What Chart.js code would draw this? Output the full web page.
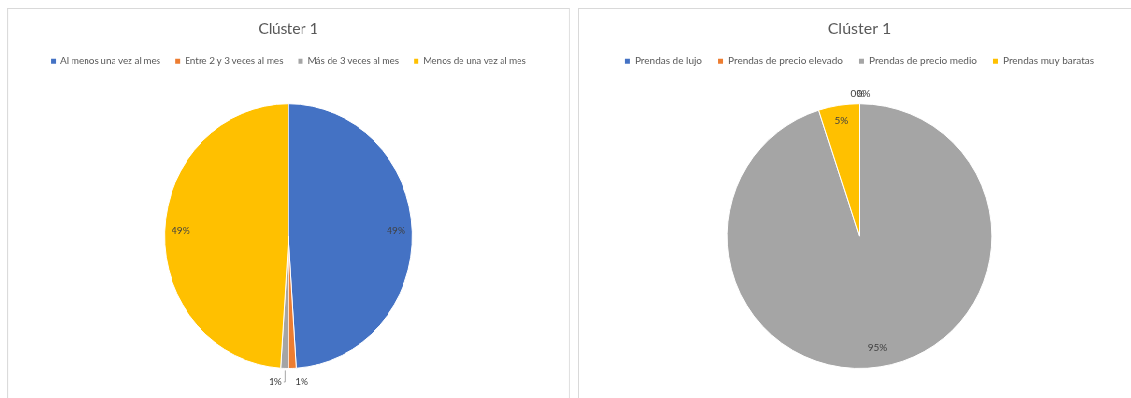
<!DOCTYPE html>
<html>
<head>
<meta charset="utf-8">
<title>Clúster 1</title>
<script src="https://cdn.jsdelivr.net/npm/chart.js@4.4.0/dist/chart.umd.min.js"></script>
<style>
	body { margin: 0; background: #fff; width: 1131px; height: 398px; overflow: hidden; position: relative; }
	.panel { position: absolute; top: 8px; border: 1px solid #d9d9d9; background: #fff; }
	#panelFreq { left: 7px; width: 600px; height: 400px; transform: scaleX(0.935); transform-origin: 0 0; }
	#panelPrice { left: 578px; width: 561px; height: 400px; }
</style>
</head>
<body>
	<div id="panelFreq" class="panel"><canvas id="chartFreq" width="600" height="390"></canvas></div>
	<div id="panelPrice" class="panel"><canvas id="chartPrice" width="561" height="390"></canvas></div>
<script>
	// datos del clúster 1
	const titleText = 'Clúster 1';
	const freqLabels = ['Al menos una vez al mes', 'Entre 2 y 3 veces al mes', 'Más de 3 veces al mes', 'Menos de una vez al mes'];
	const freqValues = [49, 1, 1, 49];
	const priceLabels = ['Prendas de lujo', 'Prendas de precio elevado', 'Prendas de precio medio', 'Prendas muy baratas'];
	const priceValues = [0, 0, 95, 5];
	const sliceColors = ['#4472C4', '#ED7D31', '#A5A5A5', '#FFC000'];

	//Etiquetas de porcentaje estilo Excel (dentro o fuera del sector)
	const pctLabels = {
		id: 'pctLabels',
		afterDatasetsDraw(chart) {
			const ctx = chart.ctx;
			const meta = chart.getDatasetMeta(0);
			const values = chart.data.datasets[0].data;
			const total = values.reduce((a, b) => a + b, 0);
			let zeroCount = 0;
			ctx.save();
			ctx.font = '10px Lato';
			ctx.fillStyle = '#404040';
			ctx.textAlign = 'center';
			ctx.textBaseline = 'middle';
			meta.data.forEach(function (arc, i) {
				const p = arc.getProps(['x', 'y', 'startAngle', 'endAngle', 'outerRadius'], true);
				const frac = values[i] / total;
				const text = Math.round(frac * 100) + '%';
				const mid = (p.startAngle + p.endAngle) / 2;
				const cos = Math.cos(mid), sin = Math.sin(mid);
				if (frac >= 0.04) {
					const r = p.outerRadius * 0.87;
					ctx.fillText(text, p.x + cos * r, p.y + sin * r - 2);
					return;
				}
				const ex = p.x + cos * p.outerRadius;
				const ey = p.y + sin * p.outerRadius;
				const w = ctx.measureText(text).width;
				if (frac === 0) {
					// sectores vacíos: se apilan casi encima, como en Excel
					ctx.fillText(text, ex + cos * 10 + zeroCount * 6 - 2, ey + sin * 10);
					zeroCount++;
					return;
				}
				const side = cos >= 0 ? 1 : -1;
				const lx = ex + side * (w / 2 + 3);
				const ly = ey + 13;
				ctx.fillText(text, lx, ly);
				if (side < 0) {
					ctx.strokeStyle = '#A6A6A6';
					ctx.lineWidth = 1;
					ctx.beginPath();
					ctx.moveTo(lx + w / 2 + 2, ly + 0.5);
					ctx.lineTo(ex + 0.5, ly + 0.5);
					ctx.lineTo(ex + 0.5, ey + 2);
					ctx.stroke();
				}
			});
			ctx.restore();
		}
	};

	//Espacio extra debajo de la leyenda
	const legendGap = {
		id: 'legendGap',
		beforeInit(chart) {
			const origFit = chart.legend.fit;
			chart.legend.fit = function () {
				origFit.bind(chart.legend)();
				this.height += 27;
			};
		}
	};

	function drawPie(canvas, labels, values) {
		new Chart(canvas, {
			type: 'pie',
			data: {
				labels: labels,
				datasets: [{
					data: values,
					backgroundColor: sliceColors,
					borderColor: '#ffffff',
					borderWidth: 1
				}]
			},
			options: {
				responsive: false,
				animation: false,
				layout: { padding: { bottom: 30 } },
				plugins: {
					tooltip: { enabled: false },
					title: {
						display: true,
						text: titleText,
						color: '#595959',
						font: { family: 'Lato', size: 16, weight: 'normal' },
						padding: { top: 10, bottom: 2 }
					},
					legend: {
						position: 'top',
						labels: {
							color: '#595959',
							font: { family: 'Lato', size: 10 },
							boxWidth: 5,
							boxHeight: 5,
							padding: 16,
							generateLabels(chart) {
								const items = Chart.overrides.pie.plugins.legend.labels.generateLabels(chart);
								items.forEach(it => { it.lineWidth = 0; });
								return items;
							}
						}
					}
				}
			},
			plugins: [pctLabels, legendGap]
		});
	}

	document.fonts.load('10px Lato').then(function () {
		drawPie(document.getElementById('chartFreq'), freqLabels, freqValues);
		drawPie(document.getElementById('chartPrice'), priceLabels, priceValues);
	});
</script>
</body>
</html>
